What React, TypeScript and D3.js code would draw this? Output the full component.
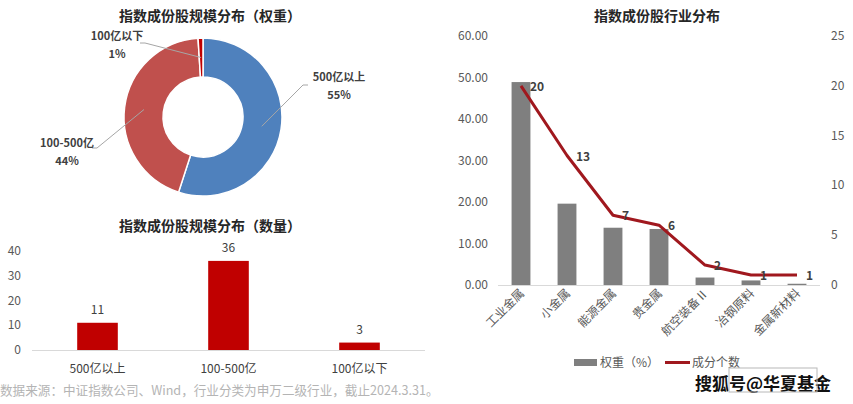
import React from "react";
import * as d3 from "d3";

const FONT = "'Noto Sans CJK SC', 'Noto Sans', sans-serif";

// Donut (weight)
const sizeCats = ["500亿以上", "100-500亿", "100亿以下"];
const sizeWeights = [55, 44, 1];
const sizeColors = ["#4F81BD", "#C0504D", "#C00000"];
// label offsets (layout) relative to donut center
const donutLabelPos = [
  { lx: 136, ly: -36, ex: 100, ey: -32 },
  { lx: -136, ly: 30, ex: -106, ey: 31 },
  { lx: -86, ly: -77, ex: -58, ey: -74 },
];

// Bar (count)
const sizeCounts = [11, 36, 3];
const countTicks = [0, 10, 20, 30, 40];

// Industry
const industries = ["工业金属", "小金属", "能源金属", "贵金属", "航空装备Ⅱ", "冶钢原料", "金属新材料"];
const industryWeights = [48.9, 19.6, 13.8, 13.5, 1.8, 1.1, 0.3];
const industryCounts = [20, 13, 7, 6, 2, 1, 1];
const leftTicks = [0, 10, 20, 30, 40, 50, 60];
const rightTicks = [0, 5, 10, 15, 20, 25];

const footnote = "数据来源：中证指数公司、Wind，行业分类为申万二级行业，截止2024.3.31。";

function Donut() {
  const cx = 203, cy = 117, R = 79, r = 40;
  const pie = d3.pie<number>().sort(null).value((d) => d);
  const arcs = pie(sizeWeights);
  const arc = d3.arc<d3.PieArcDatum<number>>().innerRadius(r).outerRadius(R);
  const mid = d3.arc<d3.PieArcDatum<number>>().innerRadius((r + R) / 2).outerRadius((r + R) / 2);
  return (
    <g>
      <text x={210} y={21} textAnchor="middle" fontSize={14} fontWeight="bold" fill="#262626">指数成份股规模分布（权重）</text>
      <g transform={`translate(${cx},${cy})`}>
        {arcs.map((a, i) => (
          <path key={i} d={arc(a) || ""} fill={sizeColors[i]} stroke="#fff" strokeWidth={1.5} />
        ))}
        {arcs.map((a, i) => {
          const [mx, my] = mid.centroid(a);
          const p = donutLabelPos[i];
          const right = p.lx > 0;
          return (
            <g key={"l" + i}>
              <polyline
                points={`${mx},${my} ${p.ex},${p.ey} ${p.ex + (right ? 5 : -5)},${p.ey}`}
                fill="none"
                stroke="#A6A6A6"
                strokeWidth={1}
              />
              <text x={p.lx} y={p.ly} textAnchor="middle" fontSize={11} fontWeight="bold" fill="#404040">{sizeCats[i]}</text>
              <text x={p.lx} y={p.ly + 18} textAnchor="middle" fontSize={11} fontWeight="bold" fill="#404040">{sizeWeights[i]}%</text>
            </g>
          );
        })}
      </g>
    </g>
  );
}

function CountBars() {
  const x = d3.scaleBand().domain(sizeCats).range([32, 425]).paddingInner(0.69).paddingOuter(0.345);
  const y = d3.scaleLinear().domain([0, 40]).range([350, 251]);
  return (
    <g>
      <text x={210} y={231} textAnchor="middle" fontSize={14} fontWeight="bold" fill="#262626">指数成份股规模分布（数量）</text>
      {countTicks.map((t) => (
        <text key={t} x={21} y={y(t) + 4} textAnchor="end" fontSize={12} fill="#595959">{t}</text>
      ))}
      <line x1={32} x2={425} y1={y(0) + 0.5} y2={y(0) + 0.5} stroke="#D9D9D9" />
      {sizeCats.map((c, i) => (
        <g key={c}>
          <rect x={x(c)} y={y(sizeCounts[i])} width={x.bandwidth()} height={y(0) - y(sizeCounts[i])} fill="#C00000" />
          <text x={(x(c) || 0) + x.bandwidth() / 2} y={y(sizeCounts[i]) - 9} textAnchor="middle" fontSize={12} fill="#404040">{sizeCounts[i]}</text>
          <text x={(x(c) || 0) + x.bandwidth() / 2} y={373} textAnchor="middle" fontSize={12} fill="#404040">{c}</text>
        </g>
      ))}
    </g>
  );
}

function Industry() {
  const x = d3.scaleBand().domain(industries).range([498, 820]).paddingInner(0.59).paddingOuter(0.295);
  const yL = d3.scaleLinear().domain([0, 60]).range([285, 36]);
  const yR = d3.scaleLinear().domain([0, 25]).range([285, 36]);
  const cxOf = (c: string) => (x(c) || 0) + x.bandwidth() / 2;
  const line = d3.line<number>().x((_, i) => cxOf(industries[i])).y((d) => yR(d));
  return (
    <g>
      <text x={657} y={21} textAnchor="middle" fontSize={14} fontWeight="bold" fill="#262626">指数成份股行业分布</text>
      {leftTicks.map((t) => (
        <text key={t} x={488} y={yL(t) + 4} textAnchor="end" fontSize={12} fill="#595959">{t.toFixed(2)}</text>
      ))}
      {rightTicks.map((t) => (
        <text key={t} x={831} y={yR(t) + 4} textAnchor="start" fontSize={12} fill="#595959">{t}</text>
      ))}
      <line x1={498} x2={820} y1={yL(0) + 0.5} y2={yL(0) + 0.5} stroke="#D9D9D9" />
      {industries.map((c, i) => (
        <rect key={c} x={x(c)} y={yL(industryWeights[i])} width={x.bandwidth()} height={yL(0) - yL(industryWeights[i])} fill="#7F7F7F" />
      ))}
      <path d={line(industryCounts) || ""} fill="none" stroke="#A0181E" strokeWidth={3} strokeLinejoin="round" />
      {industries.map((c, i) => (
        <text key={"v" + c} x={cxOf(c) + 9} y={yR(industryCounts[i]) + 5} fontSize={12} fontWeight="bold" fill="#404040">{industryCounts[i]}</text>
      ))}
      {industries.map((c) => (
        <text key={"c" + c} transform={`translate(${cxOf(c) + 4},${294}) rotate(-45)`} textAnchor="end" fontSize={12} fill="#595959">{c}</text>
      ))}
      <rect x={574} y={359} width={23} height={7} fill="#7F7F7F" />
      <text x={600} y={367} fontSize={12} fill="#595959">权重（%）</text>
      <line x1={665} x2={690} y1={362.5} y2={362.5} stroke="#A0181E" strokeWidth={3} />
      <text x={692} y={367} fontSize={12} fill="#595959">成分个数</text>
    </g>
  );
}

export default function App() {
  return (
    <div style={{ position: "absolute", left: 0, top: 0 }}>
      <svg width={853} height={404} style={{ display: "block", fontFamily: FONT }}>
        <rect width={853} height={404} fill="#fff" />
        <Donut />
        <CountBars />
        <Industry />
        <text x={0} y={395} fontSize={12.6} fill="#B4B4B4">{footnote}</text>
        <text x={695} y={390} fontSize={17} fontWeight="bold" fill="#111" stroke="#fff" strokeWidth={3} paintOrder="stroke">搜狐号@华夏基金</text>
        <rect x={729} y={368} width={88} height={24} fill="none" stroke="#B8B8B8" />
      </svg>
    </div>
  );
}
